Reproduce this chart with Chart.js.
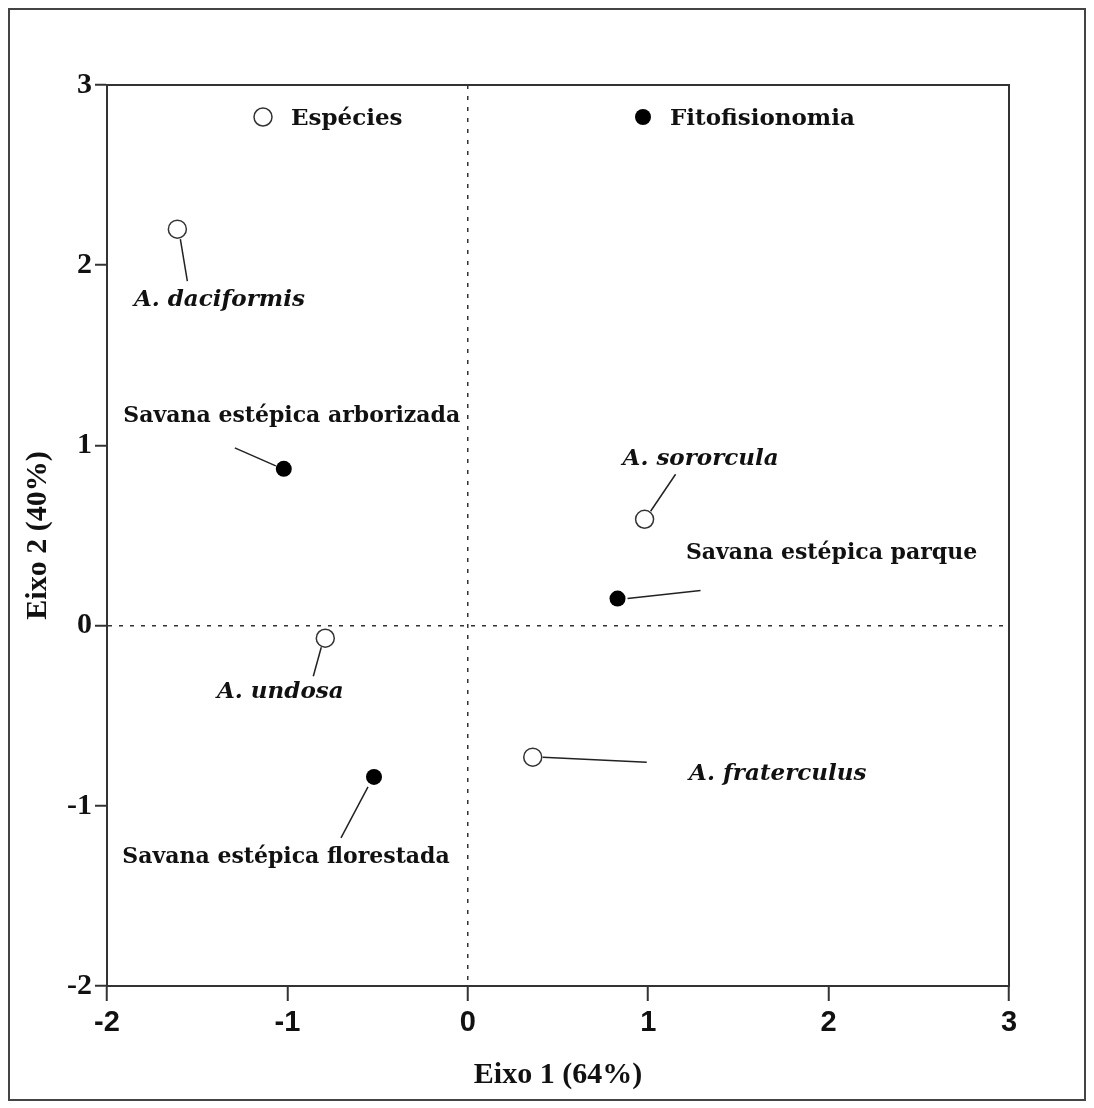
<!DOCTYPE html>
<html>
<head>
<meta charset="utf-8">
<script src="https://cdn.jsdelivr.net/npm/chart.js@4/dist/chart.umd.min.js"></script>
<style>
  html, body { margin: 0; padding: 0; background: #fff; }
  #wrap { width: 1094px; height: 1108px; position: relative; }
</style>
</head>
<body>
<div id="wrap"><canvas id="cca"></canvas></div>
<script>
// species scores (open circles)
const speciesNames = ["A. daciformis", "A. undosa", "A. fraterculus", "A. sororcula"];
const speciesX = [-1.61, -0.79, 0.36, 0.98];
const speciesY = [2.20, -0.07, -0.73, 0.59];

// vegetation type scores (filled circles)
const vegNames = ["Savana estépica arborizada", "Savana estépica florestada", "Savana estépica parque"];
const vegX = [-1.02, -0.52, 0.83];
const vegY = [0.87, -0.84, 0.15];

const xTicks = [-2, -1, 0, 1, 2, 3];
const yTicks = [-2, -1, 0, 1, 2, 3];

// label placement, pixels from the point: [lineFromDx, lineFromDy, lineToDx, lineToDy, textDx, textDy]
const speciesLabelPos = [
  [3, 10, 10, 52, 42, 71],
  [-4, 9, -12, 38, -45, 54],
  [10, 0, 114, 5, 245, 17],
  [6, -8, 31, -45, 56, -60]
];
const vegLabelPos = [
  [-49, -21, -8, -3, 8, -53],
  [-6, 10, -33, 61, -88, 80],
  [10, 0, 83, -8, 214, -45]
];

const serifBold = "bold 22px 'DejaVu Serif'";
const serifBoldItalic = "italic bold 23px 'DejaVu Serif'";
const legendFont = "bold 23px 'DejaVu Serif'";

const labelsPlugin = {
  id: "labels",
  afterDatasetsDraw(chart) {
    const ctx = chart.ctx;
    const groups = [
      { meta: chart.getDatasetMeta(0), names: speciesNames, pos: speciesLabelPos, font: serifBoldItalic },
      { meta: chart.getDatasetMeta(1), names: vegNames, pos: vegLabelPos, font: serifBold }
    ];
    ctx.save();
    groups.forEach(g => {
      g.meta.data.forEach((pt, i) => {
        const p = g.pos[i];
        ctx.strokeStyle = "#222";
        ctx.lineWidth = 1.5;
        ctx.beginPath();
        ctx.moveTo(pt.x + p[0], pt.y + p[1]);
        ctx.lineTo(pt.x + p[2], pt.y + p[3]);
        ctx.stroke();
        ctx.fillStyle = "#111";
        ctx.font = g.font;
        ctx.textAlign = "center";
        ctx.textBaseline = "middle";
        ctx.fillText(g.names[i], pt.x + p[4], pt.y + p[5]);
      });
    });

    // legend inside the plot
    const a = chart.chartArea;
    const ly = a.top + 32;
    ctx.beginPath();
    ctx.arc(a.left + 156, ly, 9, 0, Math.PI * 2);
    ctx.fillStyle = "#fff";
    ctx.fill();
    ctx.lineWidth = 1.5;
    ctx.strokeStyle = "#333";
    ctx.stroke();
    ctx.beginPath();
    ctx.arc(a.left + 536, ly, 8, 0, Math.PI * 2);
    ctx.fillStyle = "#000";
    ctx.fill();
    ctx.fillStyle = "#111";
    ctx.font = legendFont;
    ctx.textAlign = "left";
    ctx.textBaseline = "middle";
    ctx.fillText("Espécies", a.left + 184, ly + 2);
    ctx.fillText("Fitofisionomia", a.left + 563, ly + 2);
    ctx.restore();
  },
  afterDraw(chart) {
    const ctx = chart.ctx;
    const a = chart.chartArea;
    ctx.save();
    ctx.strokeStyle = "#333";
    ctx.lineWidth = 2;
    ctx.strokeRect(a.left, a.top, a.right - a.left, a.bottom - a.top);
    ctx.lineWidth = 2;
    ctx.strokeStyle = "#444";
    ctx.strokeRect(9, 9, chart.width - 18, chart.height - 17);
    ctx.restore();
  }
};

const zeroGrid = ctx => (ctx.tick && ctx.tick.value === 0 ? "#333" : "rgba(0,0,0,0)");

new Chart(document.getElementById("cca"), {
  type: "scatter",
  data: {
    datasets: [
      {
        label: "Espécies",
        data: speciesX.map((x, i) => ({ x: x, y: speciesY[i] })),
        pointRadius: 9,
        pointBorderWidth: 1.5,
        pointBackgroundColor: "#fff",
        pointBorderColor: "#333"
      },
      {
        label: "Fitofisionomia",
        data: vegX.map((x, i) => ({ x: x, y: vegY[i] })),
        pointRadius: 8,
        pointBorderWidth: 0,
        pointBackgroundColor: "#000",
        pointBorderColor: "#000"
      }
    ]
  },
  options: {
    responsive: true,
    maintainAspectRatio: false,
    animation: false,
    events: [],
    layout: { padding: { top: 85, right: 85, left: 0, bottom: 0 } },
    plugins: { legend: { display: false }, tooltip: { enabled: false } },
    scales: {
      x: {
        type: "linear",
        min: -2,
        max: 3,
        afterBuildTicks: s => { s.ticks = xTicks.map(v => ({ value: v })); },
        afterFit: s => { s.height = 122; },
        grid: { color: zeroGrid, lineWidth: 1.5, tickColor: "#333", tickLength: 15, tickWidth: 2 },
        border: { color: "#333", width: 2, dash: [4, 7] },
        ticks: {
          color: "#111",
          padding: 5,
          font: { family: "'Liberation Sans'", weight: "bold", size: 29 }
        },
        title: {
          display: true,
          text: "Eixo 1 (64%)",
          color: "#111",
          font: { family: "'Liberation Serif'", weight: "bold", size: 30 },
          padding: { top: 0, bottom: 15 }
        }
      },
      y: {
        type: "linear",
        min: -2,
        max: 3,
        afterBuildTicks: s => { s.ticks = yTicks.map(v => ({ value: v })); },
        afterFit: s => { s.width = 107; },
        grid: { color: zeroGrid, lineWidth: 1.5, tickColor: "#333", tickLength: 12, tickWidth: 2 },
        border: { color: "#333", width: 2, dash: [4, 7] },
        ticks: {
          color: "#111",
          padding: 3,
          font: { family: "'Liberation Serif'", weight: "bold", size: 30 }
        },
        title: {
          display: true,
          text: "Eixo 2 (40%)",
          color: "#111",
          font: { family: "'Liberation Serif'", weight: "bold", size: 30 },
          padding: { top: 20, bottom: 0 }
        }
      }
    }
  },
  plugins: [labelsPlugin]
});
</script>
</body>
</html>
